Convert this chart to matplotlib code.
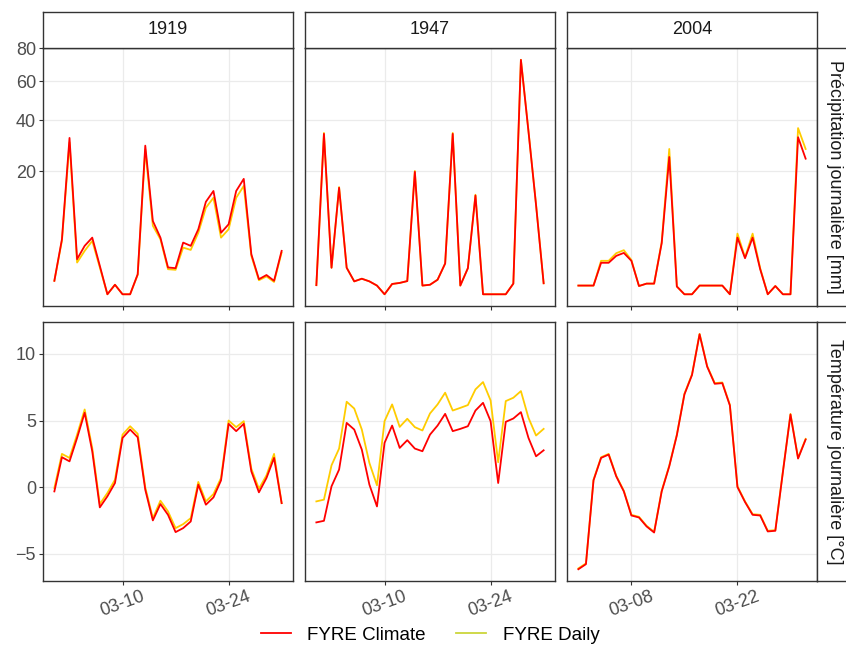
import numpy as np
import pandas as pd
import matplotlib
matplotlib.use("Agg")
import matplotlib.pyplot as plt
from matplotlib.lines import Line2D

plt.rcParams['font.family'] = ['Liberation Sans', 'DejaVu Sans']

# data (March, one value per day)
years = [1919, 1947, 2004]
x_tick_labels = [["03-10", "03-24"], ["03-10", "03-24"], ["03-08", "03-22"]]
series_names = ["FYRE Climate", "FYRE Daily"]
row_labels = ["Précipitation journalière [mm]", "Température journalière [°C]"]

precip_climate_1919 = [0.24, 4.0, 32.3, 1.63, 3.1, 4.24, 1.07, 0.0, 0.12, 0.0, 0.0, 0.53, 29.2, 7.1, 4.24, 0.95,
                       0.9, 3.53, 3.1, 5.58, 11.3, 14.1, 5.0, 6.47, 14.1, 17.6, 2.12, 0.3, 0.49, 0.24, 2.49]
precip_daily_1919 = [0.24, 3.8, 30.5, 1.33, 2.49, 3.76, 0.95, 0.0, 0.12, 0.0, 0.0, 0.5, 27.7, 6.2, 4.0, 0.83,
                     0.79, 2.88, 2.6, 5.0, 9.9, 12.3, 4.24, 5.58, 12.3, 15.5, 1.95, 0.26, 0.42, 0.2, 2.3]
precip_climate_1947 = [0.11, 34.0, 0.93, 15.0, 0.93, 0.22, 0.32, 0.22, 0.1, 0.0, 0.14, 0.17, 0.23, 19.8, 0.1, 0.12,
                       0.28, 1.25, 34.0, 0.1, 0.9, 12.9, 0.0, 0.0, 0.0, 0.0, 0.15, 72.6, 35.0, 10.5, 0.16]
precip_daily_1947 = [0.11, 34.4, 0.93, 15.2, 0.93, 0.22, 0.32, 0.22, 0.1, 0.0, 0.14, 0.17, 0.23, 20.1, 0.1, 0.12,
                     0.28, 1.25, 34.4, 0.1, 0.9, 13.1, 0.0, 0.0, 0.0, 0.0, 0.15, 72.7, 35.2, 10.6, 0.16]
precip_climate_2004 = [0.1, 0.1, 0.1, 1.31, 1.31, 1.95, 2.26, 1.48, 0.09, 0.15, 0.15, 3.45, 24.9, 0.08, 0.0, 0.0,
                       0.1, 0.1, 0.1, 0.1, 0.0, 4.24, 1.72, 4.24, 0.83, 0.0, 0.09, 0.0, 0.0, 32.6, 24.3]
precip_daily_2004 = [0.1, 0.1, 0.1, 1.48, 1.48, 2.23, 2.57, 1.55, 0.09, 0.15, 0.15, 3.6, 27.9, 0.08, 0.0, 0.0,
                     0.1, 0.1, 0.1, 0.1, 0.0, 4.86, 1.8, 4.86, 0.9, 0.0, 0.09, 0.0, 0.0, 36.5, 27.9]

temp_climate_1919 = [-0.33, 2.24, 1.93, 3.69, 5.58, 2.69, -1.53, -0.70, 0.30, 3.69, 4.32, 3.74, -0.20, -2.51, -1.28,
                     -2.09, -3.39, -3.09, -2.59, 0.18, -1.33, -0.78, 0.50, 4.75, 4.20, 4.75, 1.18, -0.40, 0.68,
                     2.19, -1.21]
temp_daily_1919 = [-0.08, 2.49, 2.19, 3.94, 5.83, 2.94, -1.28, -0.45, 0.55, 3.94, 4.57, 4.0, -0.03, -2.34, -1.03,
                   -1.83, -3.09, -2.79, -2.34, 0.38, -1.08, -0.53, 0.68, 5.0, 4.5, 4.95, 1.38, -0.13, 0.88,
                   2.49, -1.21]
temp_climate_1947 = [-2.66, -2.54, 0.05, 1.31, 4.82, 4.32, 2.81, 0.18, -1.46, 3.32, 4.62, 2.94, 3.52, 2.89, 2.69,
                     3.94, 4.62, 5.50, 4.20, 4.37, 4.57, 5.75, 6.33, 4.95, 0.30, 4.90, 5.15, 5.63, 3.69, 2.31, 2.76]
temp_daily_1947 = [-1.08, -0.95, 1.63, 2.89, 6.41, 5.90, 4.32, 1.81, 0.13, 4.95, 6.21, 4.52, 5.13, 4.50, 4.25,
                   5.53, 6.21, 7.09, 5.75, 5.95, 6.16, 7.34, 7.89, 6.51, 1.86, 6.46, 6.71, 7.21, 5.20, 3.87, 4.37]
temp_climate_2004 = [-6.18, -5.80, 0.50, 2.19, 2.44, 0.80, -0.33, -2.14, -2.29, -2.96, -3.42, -0.33, 1.56, 3.89,
                     6.96, 8.42, 11.48, 9.05, 7.76, 7.81, 6.13, 0.0, -1.13, -2.09, -2.14, -3.34, -3.29, 1.13, 5.45,
                     2.14, 3.57]
temp_daily_2004 = [-6.12, -5.74, 0.55, 2.24, 2.49, 0.85, -0.28, -2.09, -2.24, -2.91, -3.37, -0.28, 1.61, 3.94,
                   7.01, 8.47, 11.52, 9.1, 7.81, 7.86, 6.18, 0.05, -1.08, -2.04, -2.09, -3.29, -3.24, 1.18, 5.5,
                   2.19, 3.62]

precip = {1919: (precip_climate_1919, precip_daily_1919),
          1947: (precip_climate_1947, precip_daily_1947),
          2004: (precip_climate_2004, precip_daily_2004)}
temp = {1919: (temp_climate_1919, temp_daily_1919),
        1947: (temp_climate_1947, temp_daily_1947),
        2004: (temp_climate_2004, temp_daily_2004)}
precip_ticks = [20, 40, 60, 80]
temp_ticks = [-5, 0, 5, 10]

RED = '#FF0000'
GOLD = '#FFCC00'
DARK = '#333333'
GRID = '#EBEBEB'

W, H = 846, 648
fig = plt.figure(figsize=(W / 100, H / 100), dpi=100)


def rect(x0, y0, x1, y1):
    # pixel box (top-left origin) -> figure fraction
    return [x0 / W, 1 - y1 / H, (x1 - x0) / W, (y1 - y0) / H]


col_x = [43, 305, 567]
row_y = [(48, 306), (322, 581)]

# sqrt scale for precipitation
fwd = lambda v: np.sign(v) * np.sqrt(np.abs(v))
inv = lambda v: np.sign(v) * v ** 2

all_p = np.concatenate([np.r_[a, b] for a, b in precip.values()])
smax = np.sqrt(all_p.max())
p_lim = (-(0.05 * smax) ** 2, (1.05 * smax) ** 2)
all_t = np.concatenate([np.r_[a, b] for a, b in temp.values()])
t_pad = 0.05 * (all_t.max() - all_t.min())
t_lim = (all_t.min() - t_pad, all_t.max() + t_pad)


def style(ax):
    for s in ax.spines.values():
        s.set_color(DARK)
        s.set_linewidth(1.0)
    ax.grid(True, color=GRID, linewidth=0.9)
    ax.set_axisbelow(True)
    ax.tick_params(colors=DARK, length=3, width=0.8, labelcolor='#4D4D4D', labelsize=13, pad=2)


for r in range(2):
    for c, year in enumerate(years):
        x0 = col_x[c]
        y0, y1 = row_y[r]
        ax = fig.add_axes(rect(x0, y0, x0 + 250, y1))
        style(ax)
        dates = pd.date_range(f"{year}-03-01", periods=31)
        clim, daily = (precip if r == 0 else temp)[year]
        ax.plot(dates, daily, color=GOLD, lw=1.3)
        ax.plot(dates, clim, color=RED, lw=1.3)
        ax.set_xlim(dates[0] - pd.Timedelta(days=1.5), dates[-1] + pd.Timedelta(days=1.5))
        ticks = [pd.Timestamp(f"{year}-{t}") for t in x_tick_labels[c]]
        ax.set_xticks(ticks)
        if r == 0:
            ax.set_yscale('function', functions=(fwd, inv))
            ax.set_ylim(*p_lim)
            ax.set_yticks(precip_ticks)
            ax.set_xticklabels([])
        else:
            ax.set_ylim(*t_lim)
            ax.set_yticks(temp_ticks)
            ax.set_xticklabels(x_tick_labels[c], rotation=20, ha='center')
        ax.minorticks_off()
        if c == 0:
            ax.set_yticklabels([str(t) if r == 0 else f"{t}".replace('-', '\u2212') for t in
                                (precip_ticks if r == 0 else temp_ticks)])
        else:
            ax.tick_params(axis='y', length=0, labelleft=False)

        # top strips
        if r == 0:
            sax = fig.add_axes(rect(x0, 12, x0 + 250, 48))
            sax.set_xticks([]); sax.set_yticks([])
            for s in sax.spines.values():
                s.set_color(DARK); s.set_linewidth(1.0)
            sax.text(0.5, 0.5, str(year), ha='center', va='center', fontsize=13, color='#1A1A1A',
                     transform=sax.transAxes)

    # right strips
    rax = fig.add_axes(rect(817, row_y[r][0], 855, row_y[r][1]))
    rax.set_xticks([]); rax.set_yticks([])
    for s in rax.spines.values():
        s.set_color(DARK); s.set_linewidth(1.0)
    rax.text(0.47, 0.5, row_labels[r], rotation=270, ha='center', va='center', fontsize=13,
             color='#1A1A1A', transform=rax.transAxes)

handles = [Line2D([], [], color=RED, lw=1.3), Line2D([], [], color='#CCD63A', lw=1.3)]
fig.legend(handles, series_names, loc='center', bbox_to_anchor=(430 / W, 1 - 635 / H), ncol=2,
           frameon=False, fontsize=13.5, handlelength=1.6, columnspacing=1.6, handletextpad=0.9)

fig.savefig('out.png', dpi=100)
